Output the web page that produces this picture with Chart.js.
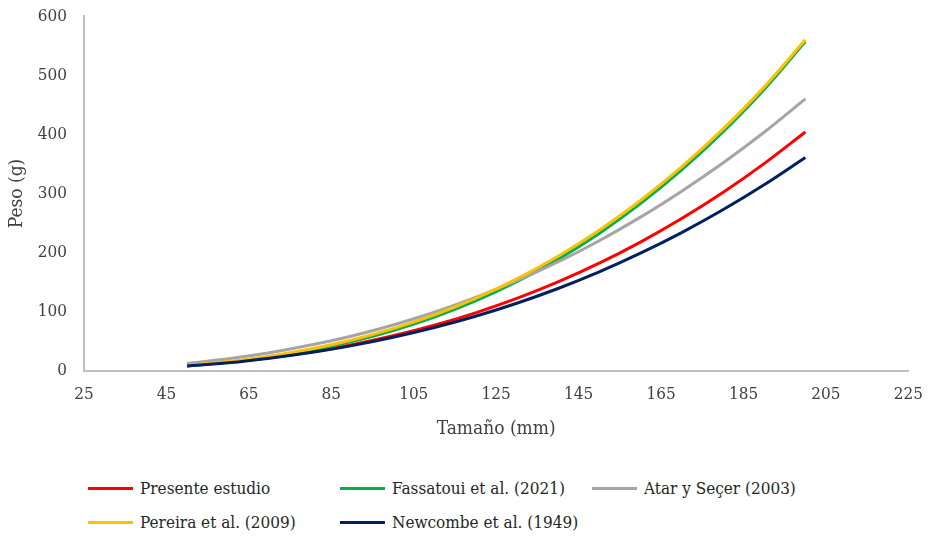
<!DOCTYPE html>
<html lang="es">
<head>
<meta charset="utf-8">
<title>Peso vs Tamaño</title>
<script src="https://cdn.jsdelivr.net/npm/chart.js@4.4.1/dist/chart.umd.min.js"></script>
<style>
  body { margin: 0; background: #fff; }
  #wrap { position: relative; width: 929px; height: 539px; overflow: hidden; }
  #caja { position: absolute; left: 0; top: -3px; width: 929px; height: 447px; }
  #leyenda {
    position: absolute; left: 88px; top: 471px;
    display: grid; grid-template-columns: 252px 252px 250px; grid-auto-rows: 34px;
    font-family: 'DejaVu Serif Condensed', 'DejaVu Serif', serif; font-size: 17px; color: #262626;
  }
  #leyenda div { display: flex; align-items: center; white-space: nowrap; }
  #leyenda span.linea { display: inline-block; width: 45px; height: 3px; margin-right: 7px; }
</style>
</head>
<body>
<div id="wrap">
  <div id="caja"><canvas id="grafico"></canvas></div>
  <div id="leyenda"></div>
</div>
<script>
// Tamaño (mm) en el eje x
const tamanos = [50, 60, 70, 80, 90, 100, 110, 120, 130, 140, 150, 160, 170, 180, 190, 200];

const presenteEstudio = [8.7, 14.4, 22.1, 31.9, 44.2, 59.2, 77.1, 98.1, 122.5, 150.4, 182.1, 217.8, 257.6, 301.7, 350.5, 404];
const fassatoui2021  = [8.3, 14.5, 23.1, 34.6, 49.5, 68.1, 90.9, 118.3, 150.7, 188.6, 232.5, 282.8, 339.8, 404.1, 476.0, 557];
const atarSecer2003  = [12.6, 20.4, 30.6, 43.5, 59.0, 77.6, 99.1, 124.1, 152.4, 184.2, 220.1, 260.0, 304.0, 351.6, 403.6, 460];
const pereira2009    = [9.1, 15.6, 24.7, 36.8, 52.2, 71.3, 94.7, 122.6, 155.5, 193.8, 237.9, 288.2, 345.0, 408.8, 480.0, 560];
const newcombe1949   = [8.0, 13.6, 21.4, 31.0, 42.6, 56.7, 73.2, 92.3, 114.3, 139.3, 167.4, 199.0, 233.9, 272.4, 314.8, 361];

const series = [
  { nombre: 'Presente estudio', datos: presenteEstudio, color: '#FF0000' },
  { nombre: 'Fassatoui et al. (2021)', datos: fassatoui2021, color: '#00B050' },
  { nombre: 'Atar y Seçer (2003)', datos: atarSecer2003, color: '#A5A5A5' },
  { nombre: 'Pereira et al. (2009)', datos: pereira2009, color: '#FFC000' },
  { nombre: 'Newcombe et al. (1949)', datos: newcombe1949, color: '#002060' }
];

const ticksX = [25, 45, 65, 85, 105, 125, 145, 165, 185, 205, 225];
const ticksY = [0, 100, 200, 300, 400, 500, 600];

const fuente = "'DejaVu Serif Condensed', 'DejaVu Serif', serif";
const colorTexto = '#404040';
const colorEje = '#BFBFBF';

// leyenda en HTML para respetar las columnas del original
const leyenda = document.getElementById('leyenda');
series.forEach(s => {
  const item = document.createElement('div');
  item.innerHTML = `<span class="linea" style="background:${s.color}"></span>${s.nombre}`;
  leyenda.appendChild(item);
});

const ctx = document.getElementById('grafico').getContext('2d');
new Chart(ctx, {
  type: 'line',
  data: {
    datasets: series.map((s, i) => ({
      label: s.nombre,
      data: tamanos.map((x, j) => ({ x: x, y: s.datos[j] })),
      borderColor: s.color,
      backgroundColor: s.color,
      borderWidth: 3,
      pointRadius: 0,
      cubicInterpolationMode: 'monotone',
      order: series.length - i // el último queda encima, como en Excel
    }))
  },
  options: {
    responsive: true,
    maintainAspectRatio: false,
    animation: false,
    layout: { padding: { top: 0, right: 2, left: 2, bottom: 0 } },
    plugins: {
      legend: { display: false },
      tooltip: { enabled: false }
    },
    scales: {
      x: {
        type: 'linear',
        min: 25,
        max: 225,
        afterBuildTicks: scale => { scale.ticks = ticksX.map(v => ({ value: v })); },
        grid: { display: false },
        border: { display: true, color: colorEje, width: 2 },
        ticks: { color: colorTexto, font: { family: fuente, size: 17 }, padding: 6, maxRotation: 0 },
        title: {
          display: true, text: 'Tamaño (mm)', color: colorTexto,
          font: { family: fuente, size: 19 }, padding: { top: 6 }
        }
      },
      y: {
        min: 0,
        max: 600,
        afterBuildTicks: scale => { scale.ticks = ticksY.map(v => ({ value: v })); },
        grid: { display: false },
        border: { display: true, color: colorEje, width: 2 },
        ticks: { color: colorTexto, font: { family: fuente, size: 17 }, padding: 9 },
        title: {
          display: true, text: 'Peso (g)', color: colorTexto,
          font: { family: fuente, size: 19 }, padding: { bottom: 0 }
        }
      }
    }
  }
});
</script>
</body>
</html>
